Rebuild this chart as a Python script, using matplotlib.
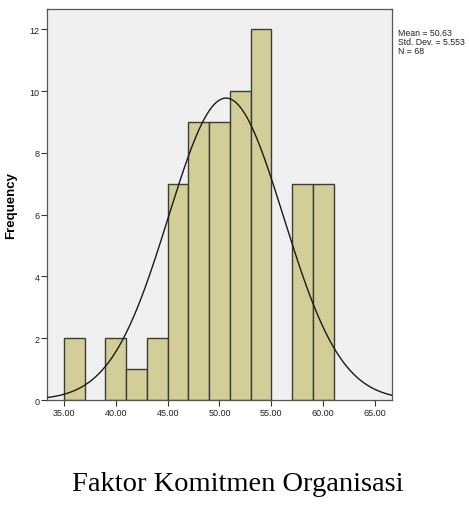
import numpy as np
import matplotlib.pyplot as plt

# ------------------------------------------------------------
# data
# ------------------------------------------------------------
BIN_EDGES = [35, 37, 39, 41, 43, 45, 47, 49, 51, 53, 55, 57, 59, 61]
COUNTS = [2, 0, 2, 1, 2, 7, 9, 9, 10, 12, 0, 7, 7]
MEAN = 50.63
STD = 5.553
N = 68
X_TICKS = [35, 40, 45, 50, 55, 60, 65]
Y_TICKS = [0, 2, 4, 6, 8, 10, 12]
CAPTION = "Faktor Komitmen Organisasi"

BAR_COLOR = "#d3ce97"
BG_COLOR = "#f0f0f0"

plt.rcParams["font.family"] = ["Liberation Sans", "DejaVu Sans"]

fig = plt.figure(figsize=(4.69, 5.06), dpi=100)
ax = fig.add_axes([0.1002, 0.2075, 0.7356, 0.7725])
ax.set_facecolor(BG_COLOR)

edges = np.array(BIN_EDGES, dtype=float)
counts = np.array(COUNTS, dtype=float)
widths = np.diff(edges)
mask = counts > 0
ax.bar(edges[:-1][mask], counts[mask], width=widths[mask], align="edge",
       color=BAR_COLOR, edgecolor="#3c3c3c", linewidth=1.0, zorder=2)

# normal curve scaled to counts
xmin, xmax = 33.36, 66.64
xs = np.linspace(xmin, xmax, 400)
bw = widths[0]
ys = N * bw / (STD * np.sqrt(2 * np.pi)) * np.exp(-0.5 * ((xs - MEAN) / STD) ** 2)
ax.plot(xs, ys, color="#1a1a1a", linewidth=1.0, zorder=3)

ax.set_xlim(xmin, xmax)
ax.set_ylim(0, 12.65)
ax.set_xticks(X_TICKS)
ax.set_xticklabels([f"{v:.2f}" for v in X_TICKS])
ax.set_yticks(Y_TICKS)
ax.tick_params(axis="both", labelsize=6.5, length=4, width=0.8,
               color="#333333", labelcolor="#222222", pad=1.5)

for sp in ax.spines.values():
    sp.set_color("#555555")
    sp.set_linewidth(0.9)

ax.set_ylabel("Frequency", fontsize=9.5, fontweight="bold")
ax.yaxis.set_label_coords(-30 / 345, 0.5)

fig.text(398 / 469, 1 - 29 / 506,
         f"Mean = {MEAN:.2f}\nStd. Dev. = {STD:.3f}\nN = {N}",
         fontsize=6.3, va="top", ha="left", color="#222222", linespacing=1.0)

fig.text(238 / 469, 1 - 485 / 506, CAPTION, family=["Liberation Serif"],
         fontsize=20.5, ha="center", va="center", color="black")

fig.savefig("out.png", dpi=100)
